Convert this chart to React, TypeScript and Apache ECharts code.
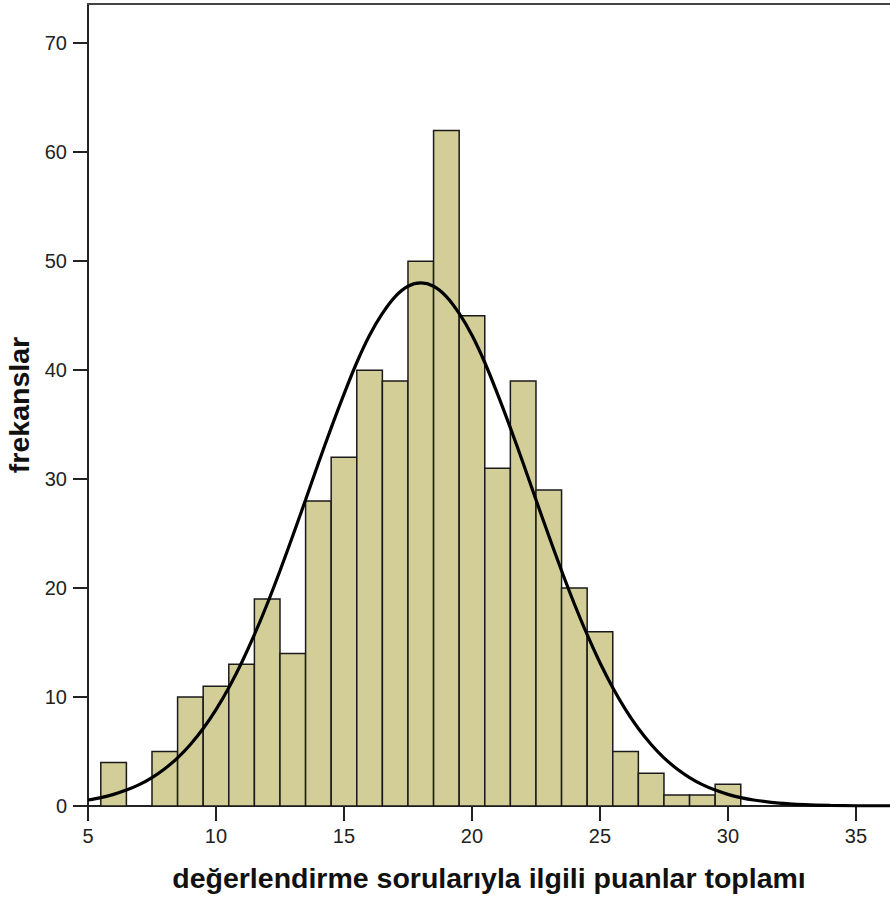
import React, { useEffect, useRef } from "react";
import * as echarts from "echarts";

// Histogram bins (centre of each 1-point bin) and frequencies
const binCenters = [6, 7, 8, 9, 10, 11, 12, 13, 14, 15, 16, 17, 18, 19, 20, 21, 22, 23, 24, 25, 26, 27, 28, 29, 30];
const frequencies = [4, 0, 5, 10, 11, 13, 19, 14, 28, 32, 40, 39, 50, 62, 45, 31, 39, 29, 20, 16, 5, 3, 1, 1, 2];
const binWidth = 1;

// Fitted normal curve
const curveX = [5, 5.5, 6, 6.5, 7, 7.5, 8, 8.5, 9, 9.5, 10, 10.5, 11, 11.5, 12, 12.5, 13, 13.5, 14, 14.5, 15, 15.5, 16, 16.5, 17, 17.5, 18, 18.5, 19, 19.5, 20, 20.5, 21, 21.5, 22, 22.5, 23, 23.5, 24, 24.5, 25, 25.5, 26, 26.5, 27, 27.5, 28, 28.5, 29, 29.5, 30, 30.5, 31, 32, 33, 34, 35, 36, 36.33];
const curveY = [0.55, 0.77, 1.07, 1.46, 1.96, 2.61, 3.42, 4.42, 5.65, 7.11, 8.85, 10.86, 13.15, 15.72, 18.54, 21.59, 24.8, 28.1, 31.45, 34.7, 37.8, 40.7, 43.2, 45.2, 46.75, 47.7, 48.0, 47.7, 46.75, 45.2, 43.2, 40.7, 37.8, 34.7, 31.45, 28.1, 24.8, 21.59, 18.54, 15.72, 13.15, 10.86, 8.85, 7.11, 5.65, 4.42, 3.42, 2.61, 1.96, 1.46, 1.07, 0.77, 0.55, 0.26, 0.12, 0.05, 0.02, 0.01, 0.005];

const xTicks = [5, 10, 15, 20, 25, 30, 35];
const yTicks = [0, 10, 20, 30, 40, 50, 60, 70];

const xTitle = "değerlendirme sorularıyla ilgili puanlar toplamı";
const yTitle = "frekanslar";

const FONT = "'Liberation Sans', Arial, Helvetica, sans-serif";

export default function App() {
  const ref = useRef<HTMLDivElement>(null);

  useEffect(() => {
    document.body.style.margin = "0";
    if (!ref.current) return;
    const chart = echarts.init(ref.current, undefined, { renderer: "svg" });

    const barData = binCenters
      .map((c, i) => [c, frequencies[i]])
      .filter((d) => d[1] > 0);
    const lineData = curveX.map((x, i) => [x, curveY[i]]);

    chart.setOption({
      animation: false,
      backgroundColor: "#ffffff",
      grid: { left: 88, right: 0, top: 4, bottom: 97, containLabel: false, outerBoundsMode: "none" },
      xAxis: [
        {
          type: "value",
          min: 5,
          max: 36.33,
          interval: 5,
          name: xTitle,
          nameLocation: "middle",
          nameGap: 57,
          nameTextStyle: { fontFamily: FONT, fontSize: 28.5, fontWeight: "bold", color: "#111" },
          axisLine: { show: true, onZero: false, lineStyle: { color: "#222", width: 2 } },
          axisTick: { show: true, length: 15, customValues: xTicks, lineStyle: { color: "#222", width: 2 } },
          axisLabel: { customValues: xTicks, margin: 20, fontFamily: FONT, fontSize: 20, color: "#222" },
          splitLine: { show: false },
        },
        {
          type: "value",
          position: "top",
          min: 5,
          max: 36.33,
          axisLine: { show: true, onZero: false, lineStyle: { color: "#444", width: 2 } },
          axisTick: { show: false },
          axisLabel: { show: false },
          splitLine: { show: false },
        },
      ],
      yAxis: {
        type: "value",
        min: 0,
        max: 73.6,
        interval: 10,
        name: yTitle,
        nameLocation: "middle",
        nameGap: 55,
        nameTextStyle: { fontFamily: FONT, fontSize: 28.5, fontWeight: "bold", color: "#111" },
        axisLine: { show: true, lineStyle: { color: "#222", width: 2 } },
        axisTick: { show: true, length: 15, customValues: yTicks, lineStyle: { color: "#222", width: 2 } },
        axisLabel: { customValues: yTicks, margin: 21, fontFamily: FONT, fontSize: 20, color: "#222" },
        splitLine: { show: false },
      },
      series: [
        {
          type: "custom",
          xAxisIndex: 0,
          data: barData,
          renderItem: (params: any, api: any) => {
            const x = api.value(0);
            const y = api.value(1);
            const p1 = api.coord([x - binWidth / 2, y]);
            const p2 = api.coord([x + binWidth / 2, 0]);
            return {
              type: "rect",
              shape: { x: p1[0], y: p1[1], width: p2[0] - p1[0], height: p2[1] - p1[1] },
              style: { fill: "#d3ce97", stroke: "#1a1a1a", lineWidth: 1.5 },
            };
          },
          z: 2,
        },
        {
          type: "line",
          xAxisIndex: 0,
          data: lineData,
          showSymbol: false,
          smooth: 0.3,
          lineStyle: { color: "#000", width: 3.2 },
          z: 3,
        },
      ],
    });

    return () => chart.dispose();
  }, []);

  return <div ref={ref} style={{ width: 890, height: 903 }} />;
}
